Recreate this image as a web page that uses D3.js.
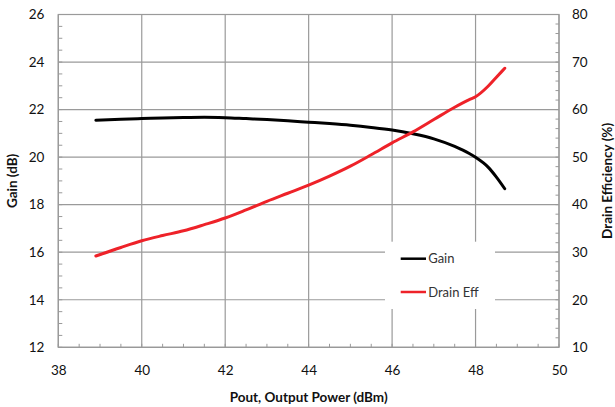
<!DOCTYPE html>
<html><head><meta charset="utf-8">
<script src="https://cdn.jsdelivr.net/npm/d3@7"></script>
<style>body{margin:0;background:#fff}svg{display:block}text{font-family:Lato,"Open Sans",sans-serif}</style>
</head><body>
<svg id="c" width="615" height="407"></svg>
<script>
const pout = [38.9, 39.5, 40, 40.5, 41, 41.5, 42, 42.5, 43, 43.5, 44, 44.5, 45, 45.5, 46, 46.5, 47, 47.5, 47.85, 48, 48.3, 48.5, 48.7];
const gain = [21.55, 21.59, 21.62, 21.65, 21.67, 21.68, 21.66, 21.62, 21.58, 21.53, 21.47, 21.41, 21.34, 21.25, 21.14, 20.98, 20.77, 20.45, 20.15, 19.99, 19.58, 19.16, 18.67];
const drainEff = [29.2, 31.0, 32.4, 33.5, 34.5, 35.8, 37.2, 38.9, 40.7, 42.4, 44.1, 46.0, 48.1, 50.5, 53.0, 55.3, 57.9, 60.5, 62.1, 62.7, 64.9, 66.8, 68.7];
const xTicks = [38, 40, 42, 44, 46, 48, 50];
const gainTicks = [12, 14, 16, 18, 20, 22, 24, 26];
const effTicks = [10, 20, 30, 40, 50, 60, 70, 80];
const seriesNames = ["Gain", "Drain Eff"];
const seriesColors = ["#000000", "#ee2229"];

const svg = d3.select("#c");
const L = 58.3, R = 559, T = 14.5, B = 347.3;
const x = d3.scaleLinear().domain([38, 50]).range([L, R]);
const yG = d3.scaleLinear().domain([12, 26]).range([B, T]);
const yE = d3.scaleLinear().domain([10, 80]).range([B, T]);
const grid = "#9a9a9a";

// gridlines
svg.append("g").selectAll("line").data(xTicks).join("line")
  .attr("x1", d => x(d)).attr("x2", d => x(d)).attr("y1", T).attr("y2", B)
  .attr("stroke", grid).attr("stroke-width", 1.2);
svg.append("g").selectAll("line").data(gainTicks).join("line")
  .attr("x1", L).attr("x2", R).attr("y1", d => yG(d)).attr("y2", d => yG(d))
  .attr("stroke", grid).attr("stroke-width", 1.2);

// minor ticks
const minorG = d3.range(12, 26.01, 0.5);
svg.append("g").selectAll("line").data(minorG).join("line")
  .attr("x1", L).attr("x2", L + 4).attr("y1", d => yG(d)).attr("y2", d => yG(d))
  .attr("stroke", grid).attr("stroke-width", 1);
const minorE = d3.range(10, 80.01, 2);
svg.append("g").selectAll("line").data(minorE).join("line")
  .attr("x1", R - 3.5).attr("x2", R).attr("y1", d => yE(d)).attr("y2", d => yE(d))
  .attr("stroke", grid).attr("stroke-width", 1);
const minorX = d3.range(38, 50.01, 0.5);
svg.append("g").selectAll("line").data(minorX).join("line")
  .attr("x1", d => x(d)).attr("x2", d => x(d)).attr("y1", B - 3.5).attr("y2", B)
  .attr("stroke", grid).attr("stroke-width", 1);

// frame
svg.append("rect").attr("x", L).attr("y", T).attr("width", R - L).attr("height", B - T)
  .attr("fill", "none").attr("stroke", grid).attr("stroke-width", 1.2);

// axes labels
const fs = 13.5;
const ax1 = svg.append("g").attr("transform", `translate(${L},0)`)
  .call(d3.axisLeft(yG).tickValues(gainTicks).tickSize(0).tickPadding(14));
const ax2 = svg.append("g").attr("transform", `translate(${R},0)`)
  .call(d3.axisRight(yE).tickValues(effTicks).tickSize(0).tickPadding(13));
const ax3 = svg.append("g").attr("transform", `translate(0,${B})`)
  .call(d3.axisBottom(x).tickValues(xTicks).tickSize(0).tickPadding(18));
[ax1, ax2, ax3].forEach(a => {
  a.select(".domain").remove();
  a.selectAll("text").attr("font-size", fs).attr("font-family", "Lato, sans-serif")
    .attr("fill", "#111");
});

// lines
const lineG = d3.line().x((d, i) => x(pout[i])).y(d => yG(d)).curve(d3.curveMonotoneX);
const lineE = d3.line().x((d, i) => x(pout[i])).y(d => yE(d)).curve(d3.curveMonotoneX);
svg.append("path").attr("d", lineG(gain)).attr("fill", "none")
  .attr("stroke", seriesColors[0]).attr("stroke-width", 3).attr("stroke-linecap", "round");
svg.append("path").attr("d", lineE(drainEff)).attr("fill", "none")
  .attr("stroke", seriesColors[1]).attr("stroke-width", 3).attr("stroke-linecap", "round");

// legend
svg.append("rect").attr("x", 385).attr("y", 241.7).attr("width", 110).attr("height", 67.3).attr("fill", "#fff");
const lg = svg.append("g").selectAll("g").data(seriesNames).join("g")
  .attr("transform", (d, i) => `translate(400.7,${258.7 + i * 33.3})`);
lg.append("line").attr("x1", 0).attr("x2", 25.3).attr("y1", 0).attr("y2", 0)
  .attr("stroke", (d, i) => seriesColors[i]).attr("stroke-width", 2.5);
lg.append("text").attr("x", 27.5).attr("y", 0).attr("dy", "0.36em")
  .attr("font-size", 13).attr("fill", "#333").text(d => d);

// titles
const tfs = 13.5;
svg.append("text").attr("transform", `translate(12,${(T + B) / 2}) rotate(-90)`)
  .attr("text-anchor", "middle").attr("dy", "0.35em").attr("font-size", tfs).attr("font-weight", 700)
  .attr("fill", "#111").text("Gain (dB)");
svg.append("text").attr("transform", `translate(607,${(T + B) / 2}) rotate(-90)`)
  .attr("text-anchor", "middle").attr("dy", "0.35em").attr("font-size", tfs).attr("font-weight", 700)
  .attr("fill", "#111").text("Drain Efficiency (%)");
svg.append("text").attr("x", (L + R) / 2).attr("y", 402)
  .attr("text-anchor", "middle").attr("font-size", tfs).attr("font-weight", 700)
  .attr("fill", "#111").text("Pout, Output Power (dBm)");
</script>
</body></html>
